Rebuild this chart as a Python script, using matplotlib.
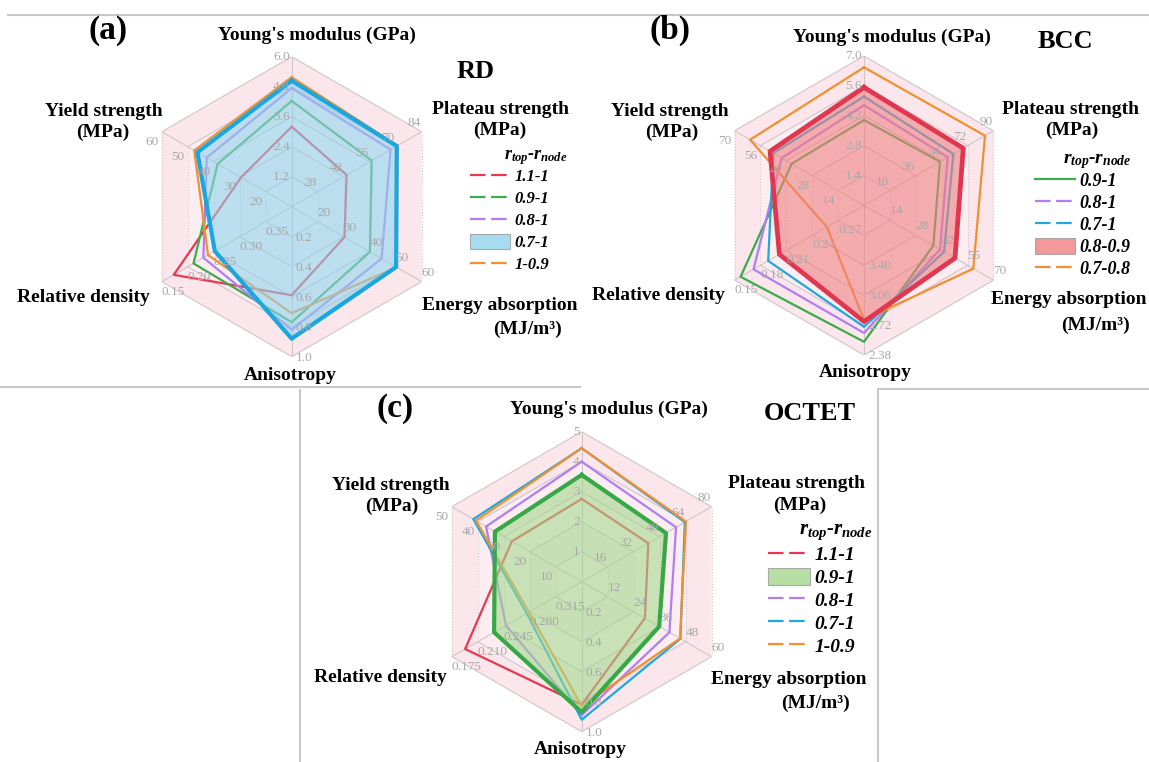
import numpy as np
import matplotlib
matplotlib.use('Agg')
import matplotlib.pyplot as plt
from matplotlib.lines import Line2D
from matplotlib.patches import Patch

plt.rcParams['font.family'] = ['Liberation Serif', 'DejaVu Serif']
plt.rcParams['mathtext.fontset'] = 'custom'
plt.rcParams['mathtext.it'] = 'Liberation Serif:italic:bold'
plt.rcParams['mathtext.rm'] = 'Liberation Serif:bold'
plt.rcParams['mathtext.bf'] = 'Liberation Serif:bold'

W, H = 1149, 762

# axis order, clockwise from the top:
# Young's modulus, Plateau strength, Energy absorption, Anisotropy, Relative density, Yield strength

# ---- (a) RD ----
rd_lo = [0, 14, 10, 0, 0.40, 10]          # value at the centre
rd_hi = [6.0, 84, 60, 1.0, 0.15, 60]      # value on the outer ring
rd_ticks = [["1.2", "2.4", "3.6", "4.8", "6.0"], ["28", "42", "56", "70", "84"],
            ["20", "30", "40", "50", "60"], ["0.2", "0.4", "0.6", "0.8", "1.0"],
            ["0.35", "0.30", "0.25", "0.20", "0.15"], ["20", "30", "40", "50", "60"]]
rd_names = ["1.1-1", "0.9-1", "0.8-1", "0.7-1", "1-0.9"]
rd_11_1 = [3.2, 43.6, 30.3, 0.59, 0.173, 29.5]
rd_09_1 = [4.23, 57.1, 40.1, 0.77, 0.211, 38.5]
rd_08_1 = [4.74, 67.3, 44.6, 0.82, 0.230, 42.7]
rd_07_1 = [5.04, 70.6, 50.2, 0.88, 0.252, 46.3]
rd_1_09 = [5.18, 71.0, 50.4, 0.71, 0.239, 47.5]

# ---- (b) BCC ----
bcc_lo = [0, 0, 0, 4.08, 0.30, 0]
bcc_hi = [7.0, 90, 70, 2.38, 0.15, 70]
bcc_ticks = [["1.4", "2.8", "4.2", "5.6", "7.0"], ["18", "36", "54", "72", "90"],
             ["14", "28", "42", "55", "70"], ["", "3.40", "3.06", "2.72", "2.38"],
             ["0.27", "0.24", "0.21", "0.18", "0.15"], ["14", "28", "42", "56", "70"]]
bcc_names = ["0.9-1", "0.8-1", "0.7-1", "0.8-0.9", "0.7-0.8"]
bcc_09_1 = [4.0, 52.8, 37.5, 2.53, 0.157, 39.1]
bcc_08_1 = [4.7, 58.2, 41.1, 2.63, 0.172, 44.5]
bcc_07_1 = [5.1, 62.1, 43.3, 2.70, 0.189, 49.0]
bcc_08_09 = [5.53, 69.0, 49.2, 2.76, 0.202, 50.8]
bcc_07_08 = [6.47, 84.1, 59.1, 2.78, 0.257, 61.6]

# ---- (c) OCTET ----
oct_lo = [0, 0, 0, 0, 0.35, 0]
oct_hi = [5, 80, 60, 1.0, 0.175, 50]
oct_ticks = [["1", "2", "3", "4", "5"], ["16", "32", "48", "64", "80"],
             ["12", "24", "36", "48", "60"], ["0.2", "0.4", "0.6", "0.8", "1.0"],
             ["0.315", "0.280", "0.245", "0.210", "0.175"], ["10", "20", "30", "40", "50"]]
oct_names = ["1.1-1", "0.9-1", "0.8-1", "0.7-1", "1-0.9"]
oct_11_1 = [2.76, 41.0, 29.2, 0.82, 0.193, 26.9]
oct_09_1 = [3.56, 51.9, 35.8, 0.87, 0.232, 33.4]
oct_08_1 = [4.0, 58.1, 40.5, 0.89, 0.248, 36.8]
oct_07_1 = [4.45, 63.5, 45.6, 0.92, 0.276, 41.7]
oct_1_09 = [4.45, 64.2, 45.4, 0.83, 0.279, 40.7]

RED, GREEN, PURPLE, BLUE, ORANGE = '#e63950', '#3cab4b', '#b07ef2', '#1fa8df', '#f09030'

theta = np.deg2rad([0, 60, 120, 180, 240, 300])
theta_c = np.append(theta, theta[0])

# tick label placement per axis: ha, va, offset in px
lab_style = [('right', 'center', -2, 0), ('right', 'bottom', -1, 3), ('left', 'bottom', 0, 3),
             ('left', 'center', 4, -1), ('left', 'top', 0, -4), ('right', 'top', -3, -4)]

fig = plt.figure(figsize=(W / 100, H / 100), dpi=100)


def px(x, y):
    return x / W, 1 - y / H


def radar(cx, cy, R, lo, hi, ticks, series, colors, hl, fill_col, hl_col, hl_lw, solid_first=False):
    ax = fig.add_axes([(cx - R) / W, 1 - (cy + R) / H, 2 * R / W, 2 * R / H], projection='polar')
    ax.set_theta_zero_location('N')
    ax.set_theta_direction(-1)
    ax.set_ylim(0, 1)
    ax.axis('off')

    # background bands
    levels = [0.2, 0.4, 0.6, 0.8, 1.0]
    band_cols = ['#fdf2f5', '#fcedf1', '#fdf2f5', '#fcedf1', '#fbe6ec']
    prev = 0
    for lv, bc in zip(levels, band_cols):
        th = np.concatenate([theta_c, theta_c[::-1]])
        rr = np.concatenate([np.full(7, lv), np.full(7, prev)])
        ax.fill(th, rr, color=bc, lw=0, zorder=0)
        prev = lv
    for lv in levels:
        for k in range(6):
            ls = ':' if k in (1, 4) else '-'
            ax.plot([theta_c[k], theta_c[k + 1]], [lv, lv], color='#cfc6ca', lw=0.8, ls=ls, zorder=1)
    for t in theta:
        ax.plot([t, t], [0, 1], color='#cfc6ca', lw=0.8, zorder=1)

    # tick labels
    for k in range(6):
        ha, va, dx, dy = lab_style[k]
        for j, lv in enumerate(levels):
            ax.annotate(ticks[k][j], xy=(theta[k], lv), xytext=(dx * 0.72, dy * 0.72),
                        textcoords='offset points', ha=ha, va=va, fontsize=9.5,
                        color='#a8a8a8', zorder=6)

    def norm(vals):
        return [(v - a) / (b - a) for v, a, b in zip(vals, lo, hi)]

    for i, (vals, col) in enumerate(zip(series, colors)):
        r = norm(vals)
        r.append(r[0])
        if i == hl:
            ax.fill(theta_c, r, color=fill_col, alpha=0.6, lw=0, zorder=3)
            ax.plot(theta_c, r, color=hl_col, lw=hl_lw, zorder=4, clip_on=False)
        else:
            ax.plot(theta_c, r, color=col, lw=1.6, zorder=2, clip_on=False)

    handles = []
    for i, col in enumerate(colors):
        if i == hl:
            handles.append(Patch(facecolor=fill_col, edgecolor='#9a9a9a', lw=0.8, alpha=0.8))
        elif solid_first and i == 0:
            handles.append(Line2D([], [], color=col, lw=1.6))
        else:
            handles.append(Line2D([], [], color=col, lw=1.6, dashes=(7, 2.5)))
    return ax, handles


def add_legend(ax, handles, names, x, y, size, hlen, spacing):
    ax.legend(handles, names, loc='upper left', bbox_to_anchor=px(x, y),
              bbox_transform=fig.transFigure, frameon=False,
              prop={'family': 'Liberation Serif', 'weight': 'bold', 'style': 'italic', 'size': size},
              handlelength=hlen, handleheight=1.0, handletextpad=0.25, labelspacing=spacing,
              borderpad=0, borderaxespad=0)


def title_text(x, y, s, size=14, **kw):
    fig.text(*px(x, y), s, ha='center', va='center', fontsize=size, fontweight='bold', **kw)


# ---- panel (a)
ax_a, h_a = radar(291.7, 206.7, 150, rd_lo, rd_hi, rd_ticks,
                  [rd_11_1, rd_09_1, rd_08_1, rd_07_1, rd_1_09],
                  [RED, GREEN, PURPLE, BLUE, ORANGE], 3, '#91d3eb', '#1aa6e0', 3.0)
add_legend(ax_a, h_a, rd_names, 470, 168, 12, 2.4, 0.29)
title_text(108, 30, "(a)", 24)
title_text(476, 72, "RD", 19)
title_text(317, 35, "Young's modulus (GPa)")
title_text(104, 112, "Yield strength")
title_text(103, 132, "(MPa)")
title_text(500, 110, "Plateau strength")
title_text(500, 130, "(MPa)")
title_text(83, 298, "Relative density")
title_text(500, 305, "Energy absorption")
title_text(527, 329, "(MJ/m³)")
title_text(290, 376, "Anisotropy")
title_text(536, 158, r"$r_{top}$-$r_{node}$", 13, style='italic')

# ---- panel (b)
ax_b, h_b = radar(864, 205.5, 149.5, bcc_lo, bcc_hi, bcc_ticks,
                  [bcc_09_1, bcc_08_1, bcc_07_1, bcc_08_09, bcc_07_08],
                  [GREEN, PURPLE, BLUE, RED, ORANGE], 3, '#ef8080', '#e0364f', 3.4,
                  solid_first=True)
add_legend(ax_b, h_b, bcc_names, 1035, 171.5, 13, 2.2, 0.21)
title_text(670, 30, "(b)", 24)
title_text(1065, 42, "BCC", 19)
title_text(892, 37, "Young's modulus (GPa)")
title_text(670, 112, "Yield strength")
title_text(672, 132, "(MPa)")
title_text(1071, 110, "Plateau strength")
title_text(1072, 130, "(MPa)")
title_text(658, 295, "Relative density")
title_text(1069, 300, "Energy absorption")
title_text(1095, 325, "(MJ/m³)")
title_text(865, 373, "Anisotropy")
title_text(1097, 162, r"$r_{top}$-$r_{node}$", 14, style='italic')

# ---- panel (c)
ax_c, h_c = radar(581.7, 581.7, 150, oct_lo, oct_hi, oct_ticks,
                  [oct_11_1, oct_09_1, oct_08_1, oct_07_1, oct_1_09],
                  [RED, GREEN, PURPLE, BLUE, ORANGE], 1, '#a5d78d', '#36a846', 3.0)
add_legend(ax_c, h_c, oct_names, 768, 545, 14, 2.15, 0.18)
title_text(395, 408, "(c)", 24)
title_text(810, 414, "OCTET", 19)
title_text(609, 409, "Young's modulus (GPa)")
title_text(391, 485, "Yield strength")
title_text(392, 506, "(MPa)")
title_text(797, 484, "Plateau strength")
title_text(800, 505, "(MPa)")
title_text(380, 678, "Relative density")
title_text(789, 680, "Energy absorption")
title_text(815, 703, "(MJ/m³)")
title_text(580, 749, "Anisotropy")
title_text(836, 532, r"$r_{top}$-$r_{node}$", 15, style='italic')

# panel frames
frame = dict(color='#c8c8c8', lw=1.5, transform=fig.transFigure)
fig.add_artist(Line2D([8 / W, 1], [1 - 15 / H] * 2, **frame))
fig.add_artist(Line2D([0, 580 / W], [1 - 387 / H] * 2, **frame))
fig.add_artist(Line2D([300 / W] * 2, [1 - 390 / H, 0], **frame))
fig.add_artist(Line2D([878 / W, 1], [1 - 389 / H] * 2, **frame))
fig.add_artist(Line2D([878 / W] * 2, [1 - 389 / H, 0], **frame))

fig.savefig('out.png', dpi=100)
